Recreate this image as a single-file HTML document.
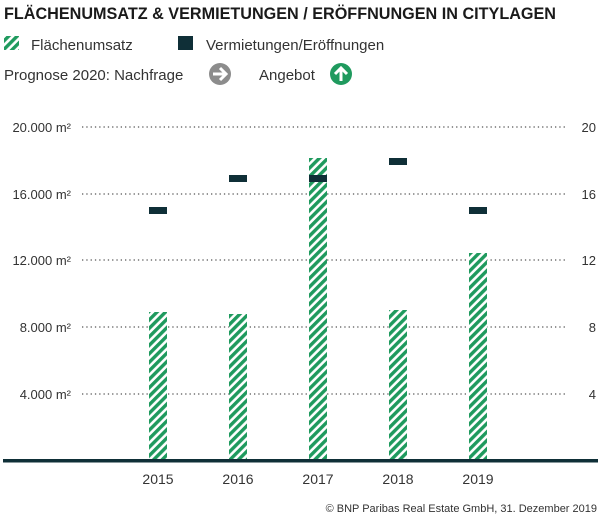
<!DOCTYPE html>
<html><head><meta charset="utf-8"><style>
body{margin:0;background:#fff;width:600px;height:518px;overflow:hidden;font-family:"Liberation Sans",sans-serif;}
</style></head><body>
<svg width="600" height="518" xmlns="http://www.w3.org/2000/svg" font-family="Liberation Sans, sans-serif">
<defs>
<pattern id="st" patternUnits="userSpaceOnUse" width="6" height="6" patternTransform="rotate(45)">
<rect width="6" height="6" fill="#fff"/><rect width="3.4" height="6" fill="#1f9a5e"/>
</pattern>
</defs>
<text x="4" y="19" font-size="16.5" font-weight="bold" fill="#1a1a1a" textLength="552" lengthAdjust="spacingAndGlyphs">FLÄCHENUMSATZ &amp; VERMIETUNGEN / ERÖFFNUNGEN IN CITYLAGEN</text>
<rect x="4" y="36" width="15" height="14" fill="url(#st)"/>
<text x="31" y="50" font-size="15" fill="#333">Flächenumsatz</text>
<rect x="178" y="36" width="15" height="14" fill="#0f2f37"/>
<text x="206" y="50" font-size="15" fill="#333">Vermietungen/Eröffnungen</text>
<text x="4" y="80" font-size="15" fill="#333">Prognose 2020: Nachfrage</text>
<circle cx="220" cy="74" r="11" fill="#8c8c8c"/>
<path d="M213 74h12M220 68l6 6-6 6" stroke="#fff" stroke-width="3" fill="none"/>
<text x="259" y="80" font-size="15" fill="#333">Angebot</text>
<circle cx="341" cy="74" r="11" fill="#1f9a5e"/>
<path d="M341 81v-12M335 74l6-6 6 6" stroke="#fff" stroke-width="3" fill="none"/>
<g stroke="#555" stroke-width="1.3" stroke-dasharray="1.3,3">
<line x1="82" y1="127" x2="566" y2="127"/><line x1="82" y1="194" x2="566" y2="194"/>
<line x1="82" y1="260" x2="566" y2="260"/><line x1="82" y1="327" x2="566" y2="327"/>
<line x1="82" y1="394" x2="566" y2="394"/>
</g>
<g font-size="13" fill="#333" text-anchor="end">
<text x="71" y="132">20.000 m²</text><text x="71" y="199">16.000 m²</text>
<text x="71" y="265">12.000 m²</text><text x="71" y="332">8.000 m²</text><text x="71" y="399">4.000 m²</text>
</g>
<g font-size="13" fill="#333" text-anchor="end">
<text x="596" y="132">20</text><text x="596" y="199">16</text><text x="596" y="265">12</text><text x="596" y="332">8</text><text x="596" y="399">4</text>
</g>
<g fill="url(#st)">
<rect x="149" y="312" width="18" height="149"/>
<rect x="229" y="314" width="18" height="147"/>
<rect x="309" y="158" width="18" height="303"/>
<rect x="389" y="310" width="18" height="151"/>
<rect x="469" y="253" width="18" height="208"/>
</g>
<g fill="#0f2f37">
<rect x="149" y="207" width="18" height="7"/>
<rect x="229" y="175" width="18" height="7"/>
<rect x="309" y="175" width="18" height="7"/>
<rect x="389" y="158" width="18" height="7"/>
<rect x="469" y="207" width="18" height="7"/>
</g>
<rect x="3" y="459" width="595" height="3.5" fill="#0f2f37"/>
<g font-size="14" fill="#333" text-anchor="middle">
<text x="158" y="484">2015</text><text x="238" y="484">2016</text><text x="318" y="484">2017</text><text x="398" y="484">2018</text><text x="478" y="484">2019</text>
</g>
<text x="597" y="512" font-size="11" fill="#333" text-anchor="end">© BNP Paribas Real Estate GmbH, 31. Dezember 2019</text>
</svg>
</body></html>
